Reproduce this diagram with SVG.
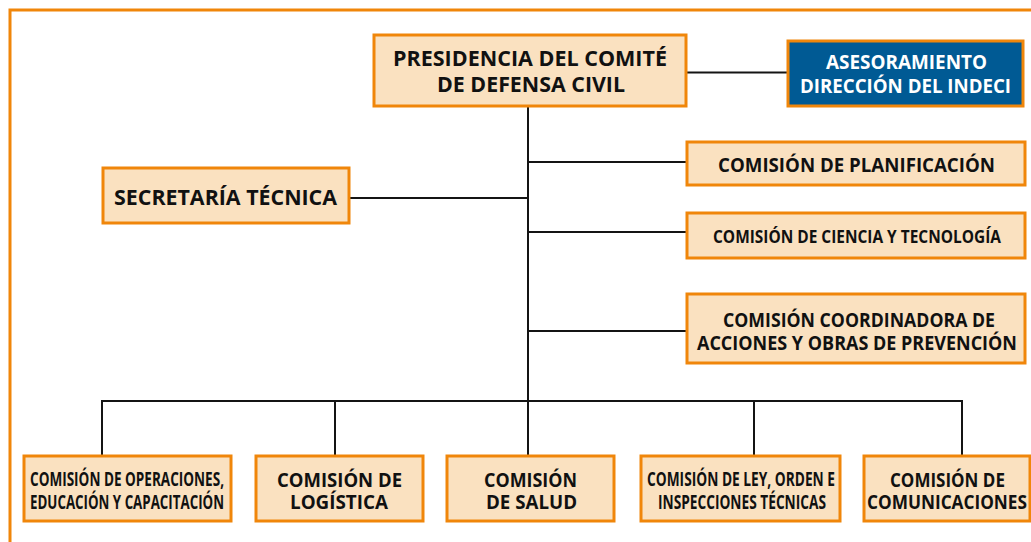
<svg xmlns="http://www.w3.org/2000/svg" width="1031" height="542" viewBox="0 0 1031 542">
<style>
.box{fill:#FAE1C0;stroke:#F0860A;stroke-width:3}
.blue{fill:#005A94;stroke:#F0860A;stroke-width:3}
.t{font-family:"Open Sans","Liberation Sans",sans-serif;font-weight:700;fill:#111;text-anchor:middle}
.w{fill:#fff}
.ln{stroke:#141414;stroke-width:2;fill:none}
</style>
<rect width="1031" height="542" fill="#fff"/>
<rect x="10" y="10" width="1040" height="560" fill="none" stroke="#F0860A" stroke-width="3"/>
<g id="connectors" class="ln">
<line x1="686" y1="72.5" x2="787" y2="72.5"/>
<line x1="528" y1="106" x2="528" y2="401"/>
<line x1="528" y1="162" x2="687" y2="162"/>
<line x1="528" y1="232" x2="687" y2="232"/>
<line x1="528" y1="331" x2="687" y2="331"/>
<line x1="349" y1="198" x2="528" y2="198"/>
<line x1="101" y1="401" x2="962" y2="401"/>
<line x1="102" y1="400" x2="102" y2="455"/>
<line x1="335" y1="400" x2="335" y2="455"/>
<line x1="528" y1="400" x2="528" y2="455"/>
<line x1="754" y1="400" x2="754" y2="455"/>
<line x1="962" y1="400" x2="962" y2="455"/>
</g>
<g id="presidencia">
<rect class="box" x="374" y="35" width="312" height="71"/>
<text class="t" font-size="21" x="530" y="66" textLength="274" lengthAdjust="spacingAndGlyphs">PRESIDENCIA DEL COMITÉ</text>
<text class="t" font-size="21" x="531" y="92" textLength="188" lengthAdjust="spacingAndGlyphs">DE DEFENSA CIVIL</text>
</g>
<g id="asesoramiento">
<rect class="blue" x="788" y="41" width="235" height="65"/>
<text class="t w" font-size="19" x="906.5" y="69" textLength="161" lengthAdjust="spacingAndGlyphs">ASESORAMIENTO</text>
<text class="t w" font-size="19" x="905.5" y="93" textLength="211" lengthAdjust="spacingAndGlyphs">DIRECCIÓN DEL INDECI</text>
</g>
<g id="secretaria">
<rect class="box" x="103" y="168" width="246" height="55"/>
<text class="t" font-size="22" x="225.5" y="205" textLength="223" lengthAdjust="spacingAndGlyphs">SECRETARÍA TÉCNICA</text>
</g>
<g id="planificacion">
<rect class="box" x="687" y="142" width="338" height="43"/>
<text class="t" font-size="19" x="856.5" y="172" textLength="277" lengthAdjust="spacingAndGlyphs">COMISIÓN DE PLANIFICACIÓN</text>
</g>
<g id="ciencia">
<rect class="box" x="687" y="213" width="338" height="45"/>
<text class="t" font-size="18" x="857" y="243" textLength="288" lengthAdjust="spacingAndGlyphs">COMISIÓN DE CIENCIA Y TECNOLOGÍA</text>
</g>
<g id="coordinadora">
<rect class="box" x="687" y="294" width="338" height="69"/>
<text class="t" font-size="19" x="859" y="327" textLength="272" lengthAdjust="spacingAndGlyphs">COMISIÓN COORDINADORA DE</text>
<text class="t" font-size="19" x="857" y="350" textLength="320" lengthAdjust="spacingAndGlyphs">ACCIONES Y OBRAS DE PREVENCIÓN</text>
</g>
<g id="operaciones">
<rect class="box" x="24" y="456" width="207" height="65"/>
<text class="t" font-size="19" x="127" y="486" textLength="194" lengthAdjust="spacingAndGlyphs">COMISIÓN DE OPERACIONES,</text>
<text class="t" font-size="19" x="127" y="509" textLength="194" lengthAdjust="spacingAndGlyphs">EDUCACIÓN Y CAPACITACIÓN</text>
</g>
<g id="logistica">
<rect class="box" x="256" y="456" width="167" height="65"/>
<text class="t" font-size="20" x="339.5" y="487" textLength="125" lengthAdjust="spacingAndGlyphs">COMISIÓN DE</text>
<text class="t" font-size="20" x="339" y="509" textLength="98" lengthAdjust="spacingAndGlyphs">LOGÍSTICA</text>
</g>
<g id="salud">
<rect class="box" x="447" y="456" width="167" height="65"/>
<text class="t" font-size="20" x="530.5" y="487" textLength="93" lengthAdjust="spacingAndGlyphs">COMISIÓN</text>
<text class="t" font-size="20" x="531.5" y="509" textLength="91" lengthAdjust="spacingAndGlyphs">DE SALUD</text>
</g>
<g id="ley">
<rect class="box" x="641" y="456" width="199" height="65"/>
<text class="t" font-size="19" x="741" y="486" textLength="188" lengthAdjust="spacingAndGlyphs">COMISIÓN DE LEY, ORDEN E</text>
<text class="t" font-size="19" x="742" y="509" textLength="168" lengthAdjust="spacingAndGlyphs">INSPECCIONES TÉCNICAS</text>
</g>
<g id="comunicaciones">
<rect class="box" x="864" y="456" width="166" height="65"/>
<text class="t" font-size="20" x="947.5" y="487" textLength="115" lengthAdjust="spacingAndGlyphs">COMISIÓN DE</text>
<text class="t" font-size="20" x="947" y="509" textLength="160" lengthAdjust="spacingAndGlyphs">COMUNICACIONES</text>
</g>
</svg>
